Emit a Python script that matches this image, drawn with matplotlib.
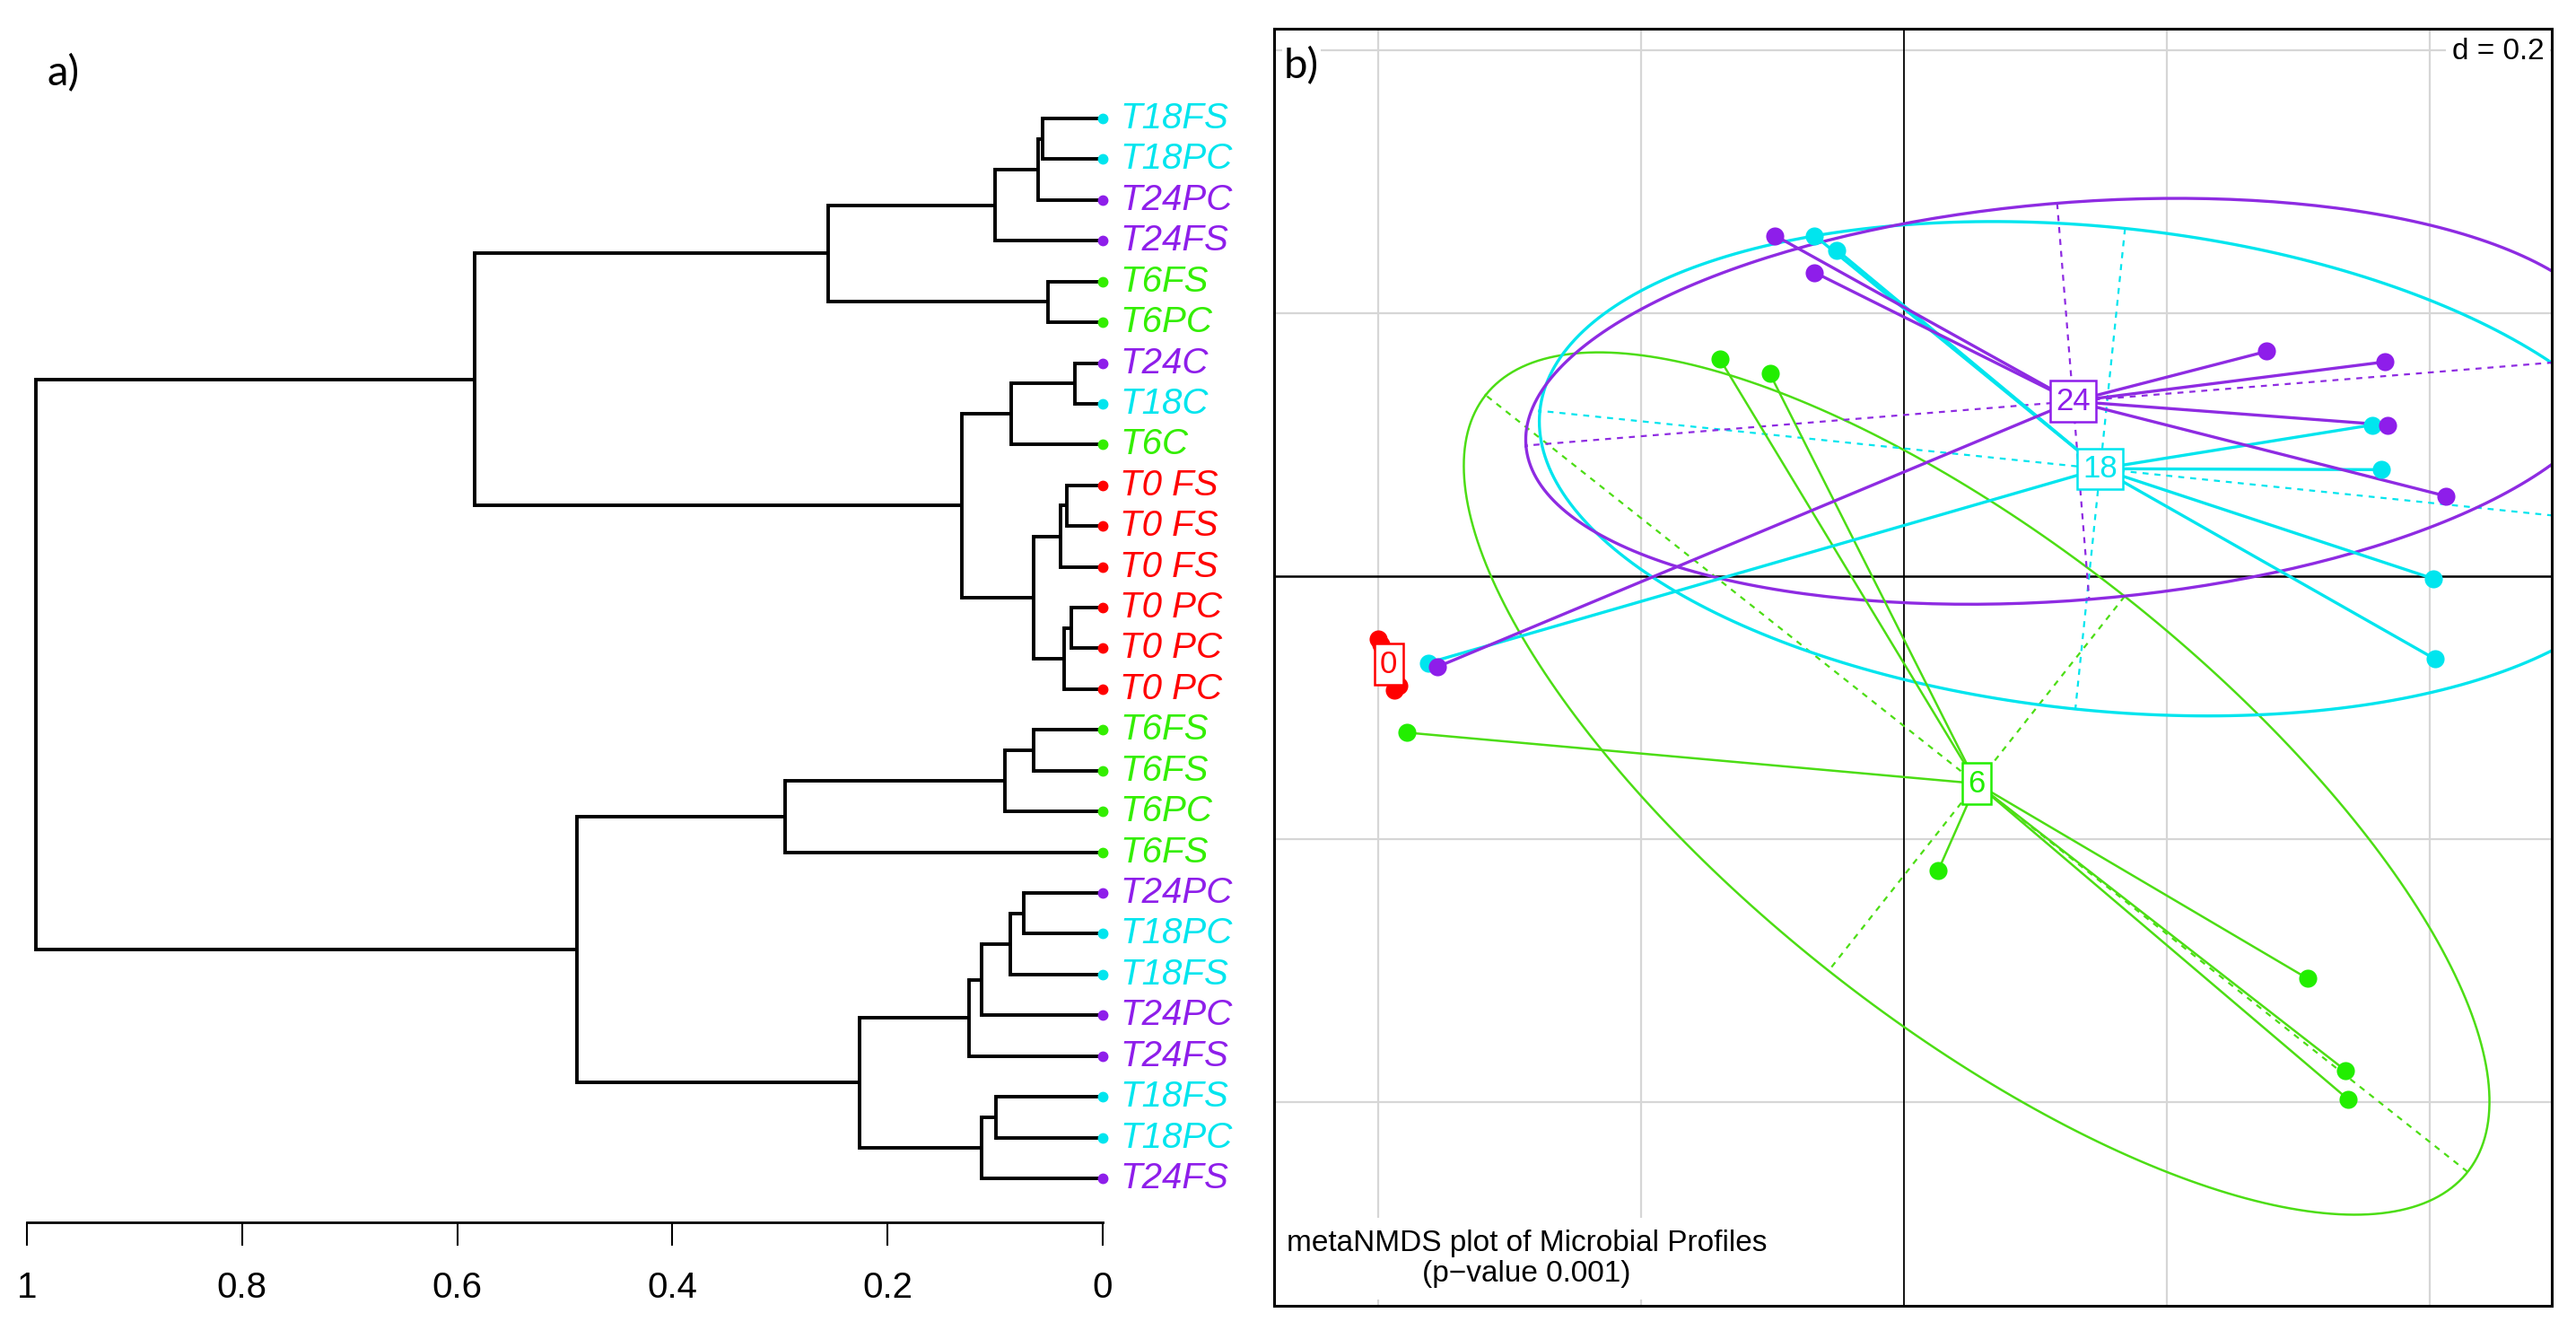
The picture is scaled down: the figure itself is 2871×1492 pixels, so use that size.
import numpy as np
import matplotlib
matplotlib.use("Agg")
import matplotlib.pyplot as plt

plt.rcParams['font.family'] = ['Liberation Sans', 'DejaVu Sans']

# ---- dendrogram data (panel a) ----
leaf_labels = ['T18FS', 'T18PC', 'T24PC', 'T24FS', 'T6FS', 'T6PC', 'T24C', 'T18C', 'T6C',
               'T0 FS', 'T0 FS', 'T0 FS', 'T0 PC', 'T0 PC', 'T0 PC',
               'T6FS', 'T6FS', 'T6PC', 'T6FS', 'T24PC', 'T18PC', 'T18FS', 'T24PC',
               'T24FS', 'T18FS', 'T18PC', 'T24FS']
# merges: (child a, child b, height); ids >= 27 refer to earlier merges
merges = [(0, 1, 0.056), (27, 2, 0.060), (28, 3, 0.100), (4, 5, 0.051),
          (29, 30, 0.255), (6, 7, 0.026), (32, 8, 0.085), (9, 10, 0.033),
          (34, 11, 0.039), (12, 13, 0.029), (36, 14, 0.036), (35, 37, 0.064),
          (33, 38, 0.131), (31, 39, 0.584), (15, 16, 0.064), (41, 17, 0.091),
          (42, 18, 0.295), (19, 20, 0.073), (44, 21, 0.086), (45, 22, 0.113),
          (46, 23, 0.124), (24, 25, 0.099), (48, 26, 0.113), (47, 49, 0.226),
          (43, 50, 0.489), (40, 51, 0.992)]
dend_ticks = [1, 0.8, 0.6, 0.4, 0.2, 0]
dend_ticklabels = ['1', '0.8', '0.6', '0.4', '0.2', '0']

# ---- NMDS data (panel b) ----
groups = ['0', '6', '18', '24']
x_t0 = [-0.400, -0.398, -0.394, -0.388, -0.384, -0.388]
y_t0 = [-0.048, -0.052, -0.060, -0.072, -0.083, -0.087]
x_t6 = [-0.140, -0.102, -0.378, 0.026, 0.307, 0.336, 0.338]
y_t6 = [0.165, 0.154, -0.119, -0.224, -0.306, -0.376, -0.398]
x_t18 = [-0.068, -0.051, 0.356, 0.363, 0.403, 0.404, -0.362]
y_t18 = [0.259, 0.248, 0.115, 0.081, -0.002, -0.063, -0.066]
x_t24 = [-0.098, -0.068, 0.276, 0.366, 0.368, 0.412, -0.355]
y_t24 = [0.259, 0.231, 0.171, 0.163, 0.115, 0.061, -0.069]

col = {'0': '#FF0000', '6': '#22EE00', '18': '#00E5EE', '24': '#8E1EEA'}
line_col = {'0': '#FF0000', '6': '#4CDD14', '18': '#00E5EE', '24': '#8E2BE2'}

W, H = 2871, 1492
fig = plt.figure(figsize=(W / 100, H / 100), dpi=100)

# ================= panel a =================
ax1 = fig.add_axes([30 / W, (H - 1362) / H, 1199 / W, 1302 / H])
n = len(leaf_labels)
pos = {i: (0.0, float(i)) for i in range(n)}
for k, (a, b, h) in enumerate(merges):
    ha_, ya = pos[a]
    hb, yb = pos[b]
    ax1.plot([h, h], [ya, yb], color='black', lw=2.8, solid_capstyle='projecting')
    ax1.plot([ha_, h], [ya, ya], color='black', lw=2.8, solid_capstyle='butt')
    ax1.plot([hb, h], [yb, yb], color='black', lw=2.8, solid_capstyle='butt')
    pos[n + k] = (h, (ya + yb) / 2)

grp_col = {'T0': '#FF0000', 'T6': '#33EE00', 'T18': '#00E5EE', 'T24': '#8E1EEA'}
for i, lab in enumerate(leaf_labels):
    key = lab.split()[0] if ' ' in lab else lab.rstrip('FSPC')
    c = grp_col[key]
    ax1.plot(0, i, 'o', color=c, ms=7.5, clip_on=False, zorder=3)
    ax1.text(-0.016, i, lab, color=c, fontsize=29, style='italic',
             va='center', ha='left', clip_on=False)

ax1.set_xlim(1, 0)
ax1.set_ylim(27.08, -1.585)
for s in ['top', 'left', 'right']:
    ax1.spines[s].set_visible(False)
ax1.spines['bottom'].set_linewidth(2)
ax1.set_xticks(dend_ticks)
ax1.set_xticklabels(dend_ticklabels, fontsize=29)
ax1.tick_params(axis='x', direction='out', length=19, width=1.5, pad=20)
ax1.set_yticks([])

fig.text(52 / W, 1 - 82 / H, 'a)', fontsize=34, family=['Lato', 'DejaVu Sans'],
         va='center', ha='left')

# ================= panel b =================
x0, x1, y0, y1 = 1420, 2844, 32, 1455
ax2 = fig.add_axes([x0 / W, (H - y1) / H, (x1 - x0) / W, (y1 - y0) / H])
ax2.set_xlim((x0 - 2122) / 1465, (x1 - 2122) / 1465)
ax2.set_ylim((642 - y1) / 1465, (642 - y0) / 1465)
ax2.set_xticks([])
ax2.set_yticks([])
for s in ax2.spines.values():
    s.set_linewidth(2.2)
    s.set_zorder(10)

for g in [-0.4, -0.2, 0.2, 0.4]:
    ax2.axvline(g, color='#D6D6D6', lw=1.6, zorder=0)
    ax2.axhline(g, color='#D6D6D6', lw=1.6, zorder=0)
ax2.axvline(0, color='black', lw=1.3, zorder=1)
ax2.axhline(0, color='black', lw=1.8, zorder=1)

data = {'0': (x_t0, y_t0), '6': (x_t6, y_t6), '18': (x_t18, y_t18), '24': (x_t24, y_t24)}
t = np.linspace(0, 2 * np.pi, 300)
for g in groups:
    xs = np.array(data[g][0])
    ys = np.array(data[g][1])
    mx, my = xs.mean(), ys.mean()
    cov = np.cov(np.vstack([xs, ys]), bias=True)
    vals, vecs = np.linalg.eigh(cov)
    vals = np.clip(vals, 0, None)
    axes_len = 1.5 * np.sqrt(vals)
    ex = mx + axes_len[1] * vecs[0, 1] * np.cos(t) + axes_len[0] * vecs[0, 0] * np.sin(t)
    ey = my + axes_len[1] * vecs[1, 1] * np.cos(t) + axes_len[0] * vecs[1, 0] * np.sin(t)
    lw = 1.8 if g == '6' else 2.4
    ax2.plot(ex, ey, color=line_col[g], lw=lw, zorder=2)
    for j in range(2):
        dx, dy = axes_len[j] * vecs[0, j], axes_len[j] * vecs[1, j]
        ax2.plot([mx - dx, mx + dx], [my - dy, my + dy], color=line_col[g],
                 lw=1.6, ls=(0, (3, 3)), zorder=2)
    for px, py in zip(xs, ys):
        ax2.plot([mx, px], [my, py], color=line_col[g], lw=lw, zorder=3)
    ax2.scatter(xs, ys, s=210, color=col[g], zorder=4, linewidths=0)
    ax2.text(mx, my, g, color=col[g], fontsize=25, ha='center', va='center', zorder=6,
             bbox=dict(boxstyle='square,pad=0.18', fc='white', ec=col[g], lw=1.8))

ax2.text(0.487, 0.399, 'd = 0.2', fontsize=24, ha='right', va='center', zorder=6,
         bbox=dict(boxstyle='square,pad=0.2', fc='white', ec='none'))
ax2.text(-0.287, -0.519, 'metaNMDS plot of Microbial Profiles\n(p\u2212value 0.001)',
         fontsize=24, ha='center', va='center', multialignment='center',
         linespacing=1.1, zorder=6,
         bbox=dict(boxstyle='square,pad=0.4', fc='white', ec='none'))
fig.text(1431 / W, 1 - 74 / H, 'b)', fontsize=34, family=['Lato', 'DejaVu Sans'],
         va='center', ha='left', zorder=10,
         bbox=dict(boxstyle='square,pad=0.05', fc='white', ec='none'))

fig.savefig('out.png', dpi=100)
